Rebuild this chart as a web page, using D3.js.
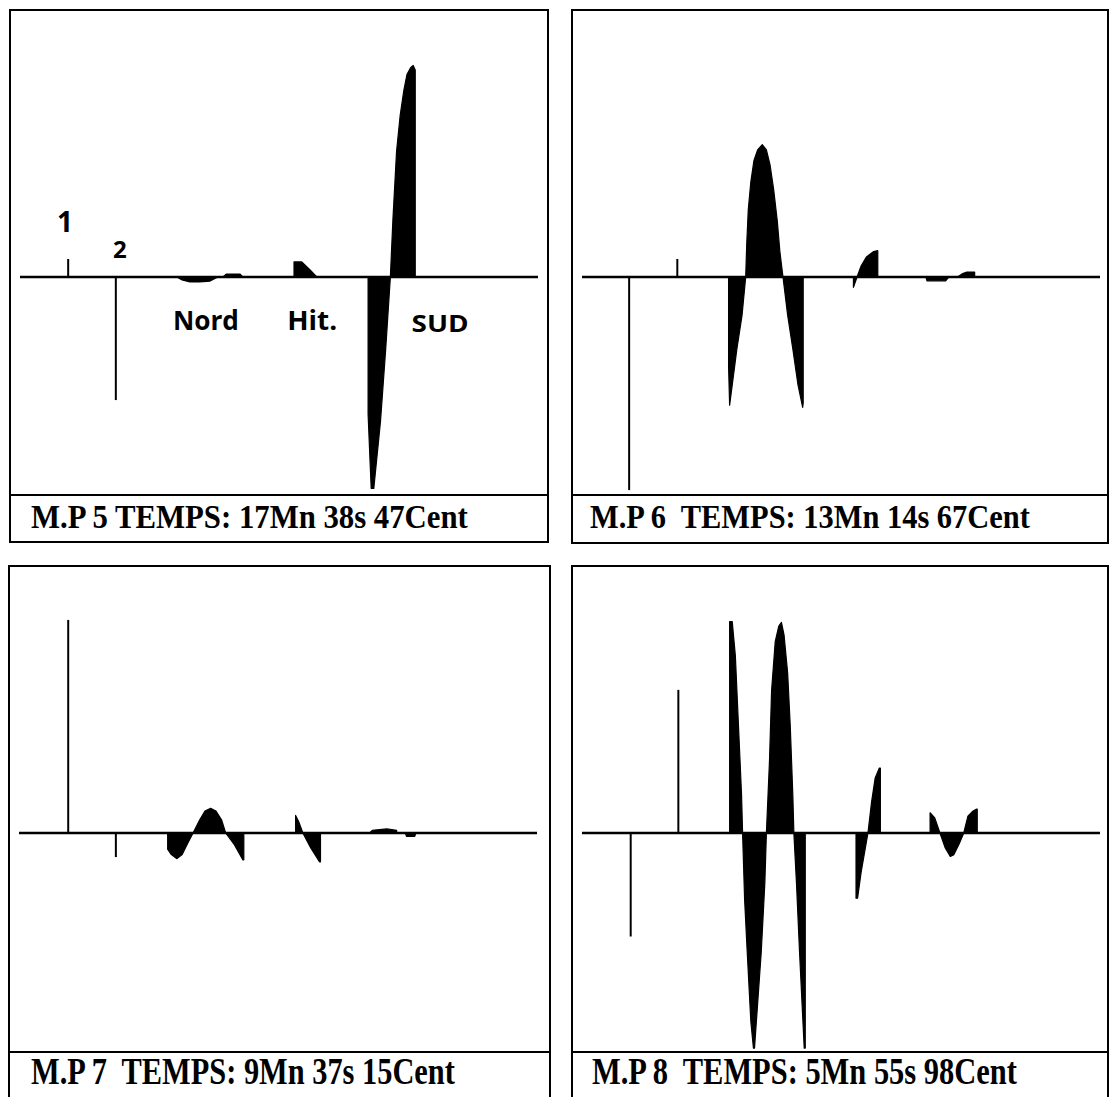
<!DOCTYPE html>
<html>
<head>
<meta charset="utf-8">
<script src="https://cdn.jsdelivr.net/npm/d3@7"></script>
<style>
  html, body { margin: 0; padding: 0; background: #fff; }
  svg { display: block; }
  .cap { white-space: pre; }
</style>
</head>
<body>
<svg id="chart" width="1109" height="1097"></svg>
<script>
// ---------- DATA (time: 0..100 units, amplitude: -100..100 units) ----------
const captions = [
  "M.P 5 TEMPS: 17Mn 38s 47Cent",
  "M.P 6  TEMPS: 13Mn 14s 67Cent",
  "M.P 7  TEMPS: 9Mn 37s 15Cent",
  "M.P 8  TEMPS: 5Mn 55s 98Cent"
];

// stimulus / marker spikes [time, amplitude]
const spikes5 = [[9.3, 8], [18.5, -54.7]];
const spikes6 = [[9.1, -94.7], [18.4, 8]];
const spikes7 = [[9.5, 94.7], [18.7, -10.7]];
const spikes8 = [[9.4, -46], [18.6, 63.6]];

// filled waveform segments, each a list of [time, amplitude]
const waves5 = [
  [[30.3,0],[31.3,-1.3],[32.8,-2.2],[34.7,-2.2],[36.7,-1.8],[38.2,0]],
  [[39.2,0],[39.8,1.3],[42.5,1.3],[43.0,0]],
  [[52.9,0],[52.9,6.7],[54.4,6.7],[56.0,3.1],[57.3,0]],
  [[67.2,0],[67.2,-61],[67.8,-94],[68.3,-94],[69.6,-64],[70.6,-32],[71.5,0],[72.0,26],[72.7,56],[73.4,72],[74.1,83],[74.7,90],[75.4,93],[75.9,94],[76.3,92],[76.3,0]]
];
const waves6 = [
  [[28.3,0],[28.3,-40],[28.5,-57],[29.9,-32],[30.9,-17],[31.6,0]],
  [[31.6,0],[31.8,14.4],[32.1,30],[32.6,42.4],[33.2,51.8],[33.9,56.5],[34.8,58.8],[35.6,56.5],[36.3,49.8],[37.0,38.9],[37.7,24.9],[38.2,11.3],[38.8,0]],
  [[38.8,0],[39.7,-17],[40.7,-32],[41.7,-48],[42.6,-58],[42.7,-56],[42.7,0]],
  [[52.4,0],[52.4,-4.6],[53.1,0],[53.9,5],[54.9,8.9],[56.3,11.3],[57.1,11.7],[57.1,0]],
  [[66.4,0],[66.6,-1.7],[70.2,-1.7],[70.8,0]],
  [[72.5,0],[73.5,1.5],[74.3,2.2],[75.8,2.2],[75.8,0]]
];
const waves7 = [
  [[28.7,0],[28.7,-7.2],[29.4,-9.6],[30.5,-11.4],[31.5,-9.6],[32.5,-4.9],[33.6,0],[34.9,5.9],[35.9,9.8],[37.0,11.0],[38.0,9.8],[39.1,5.9],[39.9,0],[41.5,-4.9],[43.2,-11.9],[43.4,-11.9],[43.4,0]],
  [[53.4,0],[53.4,7.8],[54.0,5],[54.8,0],[56.3,-6.5],[58.0,-12.8],[58.2,-12.8],[58.2,0]],
  [[67.7,0],[68.2,1.2],[71.0,1.8],[72.9,1.2],[72.9,0]],
  [[74.6,0],[74.8,-1.5],[76.4,-1.5],[76.6,0]]
];
const waves8 = [
  [[28.5,0],[28.5,94],[29.0,94],[29.6,79],[30.2,48],[30.8,17],[31.0,0],[31.4,-30],[31.9,-53],[32.6,-84],[33.1,-95.6],[33.3,-95.6],[33.9,-76],[34.6,-53],[35.3,-22],[35.6,0],[36.2,32.3],[36.6,63.3],[37.3,85],[38.0,92],[38.5,93.6],[39.0,88.1],[39.7,71.1],[40.2,47.8],[40.7,16.8],[40.9,0],[41.4,-22],[42.0,-53],[42.9,-95.6],[43.1,-95.6],[43.1,0]],
  [[52.9,0],[52.9,-29],[53.2,-29],[53.9,-17.2],[54.6,-8],[55.2,0],[55.9,13.7],[56.6,24.5],[57.4,28.9],[57.6,28.9],[57.6,0]],
  [[67.2,0],[67.2,9.0],[68.1,6.7],[69.1,0],[70.1,-6.5],[71.1,-10.4],[71.8,-9.6],[72.8,-4.9],[73.7,0],[74.5,7.5],[75.5,9.8],[76.2,10.6],[76.3,10.6],[76.3,0]]
];

// handwritten annotations on the first panel [text, time, amplitude]
const notes5 = [["1", 8.7, 20], ["2", 19.3, 8.4], ["Nord", 35.9, -23.6], ["Hit.", 56.4, -23.6], ["SUD", 81.1, -24.4]];

const spikes = [spikes5, spikes6, spikes7, spikes8];
const waves = [waves5, waves6, waves7, waves8];
const notes = [notes5, [], [], []];

// ---------- LAYOUT ----------
const boxes = [
  {L: 10,  R: 548,  T: 10,  D: 495,  B: 542,  capY: 528,  capX: 31,  capW: 437, capFs: 33},
  {L: 572, R: 1108, T: 10,  D: 495,  B: 543,  capY: 528,  capX: 590, capW: 440, capFs: 33},
  {L: 9,   R: 550,  T: 566, D: 1052, B: 1110, capY: 1084, capX: 31,  capW: 424, capFs: 38},
  {L: 572, R: 1108, T: 566, D: 1052, B: 1110, capY: 1084, capX: 592, capW: 425, capFs: 38}
];
const noteStyle = {"1": [28, null], "2": [24, null], "Nord": [26, 66], "Hit.": [26, 50], "SUD": [24, 57]};

const svg = d3.select("#chart");

boxes.forEach((b, i) => {
  const g = svg.append("g");
  const x = d3.scaleLinear().domain([0, 100]).range([b.L + 10, b.L + 528]);
  const base = b.T + 267;
  const y = d3.scaleLinear().domain([-100, 100]).range([base + 225, base - 225]);

  // frame
  g.append("rect")
    .attr("x", b.L).attr("y", b.T)
    .attr("width", b.R - b.L).attr("height", b.B - b.T)
    .attr("fill", "none").attr("stroke", "#000").attr("stroke-width", 2);
  g.append("line")
    .attr("x1", b.L).attr("x2", b.R).attr("y1", b.D).attr("y2", b.D)
    .attr("stroke", "#000").attr("stroke-width", 2);

  // waveforms
  const area = d3.area()
    .x(d => x(d[0]))
    .y0(y(0))
    .y1(d => y(d[1]))
    .curve(d3.curveLinear);
  g.selectAll("path.wave").data(waves[i]).join("path")
    .attr("class", "wave")
    .attr("d", area)
    .attr("fill", "#000")
    .attr("stroke", "#000")
    .attr("stroke-width", 1.2)
    .attr("stroke-linejoin", "round");

  // baseline
  g.append("line")
    .attr("x1", x(0)).attr("x2", x(100))
    .attr("y1", y(0)).attr("y2", y(0))
    .attr("stroke", "#000").attr("stroke-width", 2.4);

  // spikes
  g.selectAll("line.spike").data(spikes[i]).join("line")
    .attr("class", "spike")
    .attr("x1", d => x(d[0])).attr("x2", d => x(d[0]))
    .attr("y1", y(0)).attr("y2", d => y(d[1]))
    .attr("stroke", "#000").attr("stroke-width", 2);

  // annotations
  g.selectAll("text.note").data(notes[i]).join("text")
    .attr("class", "note")
    .attr("x", d => x(d[1])).attr("y", d => y(d[2]))
    .attr("text-anchor", "middle")
    .attr("font-family", "'Open Sans', 'DejaVu Sans', sans-serif")
    .attr("font-weight", 700)
    .attr("font-size", d => noteStyle[d[0]][0])
    .each(function(d) {
      const w = noteStyle[d[0]][1];
      if (w) d3.select(this).attr("textLength", w).attr("lengthAdjust", "spacingAndGlyphs");
    })
    .text(d => d[0]);

  // caption: natural text, horizontally scaled to the measured width
  const cap = g.append("text")
    .attr("class", "cap")
    .attr("x", 0).attr("y", 0)
    .attr("font-family", "'Liberation Serif', 'DejaVu Serif', serif")
    .attr("font-weight", 700)
    .attr("font-size", b.capFs)
    .attr("fill", "#000")
    .text(captions[i]);
  const natural = cap.node().getComputedTextLength();
  cap.attr("transform", `translate(${b.capX},${b.capY}) scale(${b.capW / natural},1)`);
});
</script>
</body>
</html>
